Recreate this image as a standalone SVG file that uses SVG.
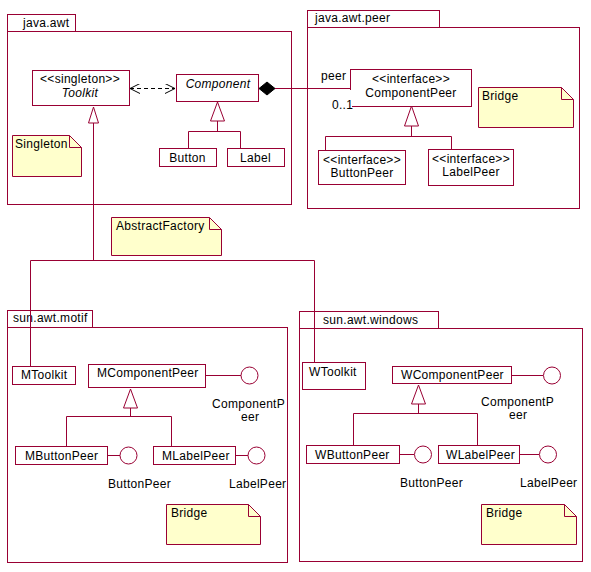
<svg xmlns="http://www.w3.org/2000/svg" width="591" height="572" viewBox="0 0 591 572">
<style>
.pk{fill:#fff;stroke:#990033;stroke-width:1}
.bx{fill:#fff;stroke:#990033;stroke-width:1}
.nt{fill:#ffffcc;stroke:#990033;stroke-width:1}
.ln{fill:none;stroke:#990033;stroke-width:1}
.tri{fill:#fff;stroke:#990033;stroke-width:1}
.ci{fill:#fff;stroke:#990033;stroke-width:1}
text{font-family:"Liberation Sans",Arial,sans-serif;font-size:12px;fill:#000;letter-spacing:0.3px}
.c{text-anchor:middle}
.i{font-style:italic}
</style>
<defs>
<marker id="open" viewBox="0 0 10 10" refX="10" refY="5" markerWidth="10" markerHeight="10" markerUnits="userSpaceOnUse" orient="auto-start-reverse">
<path d="M0,0 L10,5 L0,10" fill="none" stroke="#000" stroke-width="1"/>
</marker>
</defs>

<g id="pkg-java-awt">
<rect class="pk" x="7.5" y="14.5" width="68" height="17"/>
<rect class="pk" x="7.5" y="31.5" width="284" height="173"/>
<text x="23" y="27">java.awt</text>
</g>
<g id="pkg-java-awt-peer">
<rect class="pk" x="307.5" y="10.5" width="132" height="17"/>
<rect class="pk" x="307.5" y="27.5" width="272" height="181"/>
<text x="315" y="22">java.awt.peer</text>
</g>
<g id="pkg-sun-awt-motif">
<rect class="pk" x="7.5" y="310.5" width="85" height="17"/>
<rect class="pk" x="7.5" y="327.5" width="280" height="235"/>
<text x="13" y="322">sun.awt.motif</text>
</g>
<g id="pkg-sun-awt-windows">
<rect class="pk" x="299.5" y="311.5" width="139" height="17"/>
<rect class="pk" x="299.5" y="328.5" width="283" height="233"/>
<text x="323" y="324">sun.awt.windows</text>
</g>

<g id="Toolkit">
<rect class="bx" x="32.5" y="70.5" width="97" height="35"/>
<text class="c" x="80" y="83">&lt;&lt;singleton&gt;&gt;</text>
<text class="c i" x="80" y="97">Toolkit</text>
</g>
<g id="Component">
<rect class="bx" x="176.5" y="74.5" width="82" height="27"/>
<text class="c i" x="218" y="88">Component</text>
</g>
<g id="Button">
<rect class="bx" x="159.5" y="148.5" width="57" height="18"/>
<text class="c" x="187.5" y="162">Button</text>
</g>
<g id="Label">
<rect class="bx" x="227.5" y="148.5" width="57" height="18"/>
<text class="c" x="255.5" y="162">Label</text>
</g>
<g id="note-singleton">
<path class="nt" d="M12.5,135.5 H69.5 L81.5,147.5 V176.5 H12.5 Z"/>
<path class="ln" d="M69.5,135.5 V147.5 H81.5"/>
<text x="15" y="148">Singleton</text>
</g>

<g id="ComponentPeer">
<rect class="bx" x="350.5" y="69.5" width="121" height="37"/>
<text class="c" x="411" y="83">&lt;&lt;interface&gt;&gt;</text>
<text class="c" x="411" y="97">ComponentPeer</text>
</g>
<g id="ButtonPeer">
<rect class="bx" x="318.5" y="150.5" width="87" height="34"/>
<text class="c" x="362" y="164">&lt;&lt;interface&gt;&gt;</text>
<text class="c" x="362" y="177">ButtonPeer</text>
</g>
<g id="LabelPeer">
<rect class="bx" x="428.5" y="149.5" width="85" height="36"/>
<text class="c" x="471" y="163">&lt;&lt;interface&gt;&gt;</text>
<text class="c" x="471" y="176">LabelPeer</text>
</g>
<g id="note-bridge-peer">
<path class="nt" d="M478.5,87.5 H561.5 L573.5,99.5 V127.5 H478.5 Z"/>
<path class="ln" d="M561.5,87.5 V99.5 H573.5"/>
<text x="482" y="100">Bridge</text>
</g>

<g id="note-abstractfactory">
<path class="nt" d="M111.5,217.5 H209.5 L221.5,229.5 V255.5 H111.5 Z"/>
<path class="ln" d="M209.5,217.5 V229.5 H221.5"/>
<text x="116" y="230">AbstractFactory</text>
</g>

<g id="MToolkit">
<rect class="bx" x="12.5" y="366.5" width="63" height="18"/>
<text x="21" y="379">MToolkit</text>
</g>
<g id="MComponentPeer">
<rect class="bx" x="88.5" y="364.5" width="117" height="23"/>
<text x="97" y="377">MComponentPeer</text>
</g>
<g id="MButtonPeer">
<rect class="bx" x="15.5" y="446.5" width="92" height="18"/>
<text x="25" y="460">MButtonPeer</text>
</g>
<g id="MLabelPeer">
<rect class="bx" x="153.5" y="446.5" width="82" height="18"/>
<text x="162" y="460">MLabelPeer</text>
</g>
<g id="motif-ComponentPeer-if">
<circle class="ci" cx="249.5" cy="375.5" r="8.5"/>
<text x="212" y="408">ComponentP</text>
<text x="241" y="421">eer</text>
</g>
<g id="motif-ButtonPeer-if">
<circle class="ci" cx="128.5" cy="455.5" r="8.5"/>
<text x="108" y="488">ButtonPeer</text>
</g>
<g id="motif-LabelPeer-if">
<circle class="ci" cx="256.5" cy="455.5" r="8.5"/>
<text x="229" y="488">LabelPeer</text>
</g>
<g id="note-bridge-motif">
<path class="nt" d="M166.5,504.5 H248.5 L260.5,516.5 V544.5 H166.5 Z"/>
<path class="ln" d="M248.5,504.5 V516.5 H260.5"/>
<text x="171" y="517">Bridge</text>
</g>

<g id="WToolkit">
<rect class="bx" x="302.5" y="362.5" width="63" height="27"/>
<text x="309" y="376">WToolkit</text>
</g>
<g id="WComponentPeer">
<rect class="bx" x="392.5" y="366.5" width="119" height="17"/>
<text x="401" y="379">WComponentPeer</text>
</g>
<g id="WButtonPeer">
<rect class="bx" x="306.5" y="445.5" width="93" height="18"/>
<text x="315" y="459">WButtonPeer</text>
</g>
<g id="WLabelPeer">
<rect class="bx" x="438.5" y="445.5" width="81" height="18"/>
<text x="446" y="459">WLabelPeer</text>
</g>
<g id="windows-ComponentPeer-if">
<circle class="ci" cx="552" cy="375.5" r="8.5"/>
<text x="481" y="406">ComponentP</text>
<text x="509" y="419">eer</text>
</g>
<g id="windows-ButtonPeer-if">
<circle class="ci" cx="423" cy="454.5" r="8.5"/>
<text x="400" y="487">ButtonPeer</text>
</g>
<g id="windows-LabelPeer-if">
<circle class="ci" cx="548" cy="454.5" r="8.5"/>
<text x="520" y="487">LabelPeer</text>
</g>
<g id="note-bridge-windows">
<path class="nt" d="M481.5,504.5 H564.5 L576.5,516.5 V544.5 H481.5 Z"/>
<path class="ln" d="M564.5,504.5 V516.5 H576.5"/>
<text x="486" y="517">Bridge</text>
</g>

<g id="connectors">
<line x1="130" y1="88.5" x2="175" y2="88.5" stroke="#000" stroke-width="1" stroke-dasharray="4,3" marker-start="url(#open)" marker-end="url(#open)"/>
<line class="ln" x1="275" y1="88.5" x2="350" y2="88.5"/>
<path d="M259,88.5 L267,82 L275,88.5 L267,95 Z" fill="#000" stroke="#000" stroke-width="1"/>
<path class="tri" d="M217.5,102 L224.5,121 L210.5,121 Z"/>
<path class="ln" d="M217.5,121 V131.5 M188.5,148 V131.5 H240.5 V148"/>
<path class="tri" d="M411.5,106 L418.5,126 L404.5,126 Z"/>
<path class="ln" d="M411.5,126 V136.5 M325.5,150 V136.5 H451.5 V149"/>
<path class="tri" d="M93.5,107 L98.5,123 L88.5,123 Z"/>
<path class="ln" d="M93.5,123 V260.5 M30.5,366 V260.5 H314.5 V362"/>
<path class="tri" d="M130.5,389 L137.5,408 L123.5,408 Z"/>
<path class="ln" d="M130.5,408 V416.5 M66.5,446 V416.5 H171.5 V446"/>
<path class="tri" d="M418.5,385 L425.5,404 L411.5,404 Z"/>
<path class="ln" d="M418.5,404 V413.5 M353.5,445 V413.5 H477.5 V445"/>
<line class="ln" x1="205" y1="375.5" x2="241" y2="375.5"/>
<line class="ln" x1="107" y1="455.5" x2="120" y2="455.5"/>
<line class="ln" x1="235" y1="455.5" x2="248" y2="455.5"/>
<line class="ln" x1="511" y1="375.5" x2="543" y2="375.5"/>
<line class="ln" x1="399" y1="454.5" x2="414" y2="454.5"/>
<line class="ln" x1="519" y1="454.5" x2="539" y2="454.5"/>
<text x="321" y="80">peer</text>
<rect x="330" y="90" width="22" height="20" fill="#fff"/>
<text x="332" y="109">0..1</text>
</g>
</svg>
